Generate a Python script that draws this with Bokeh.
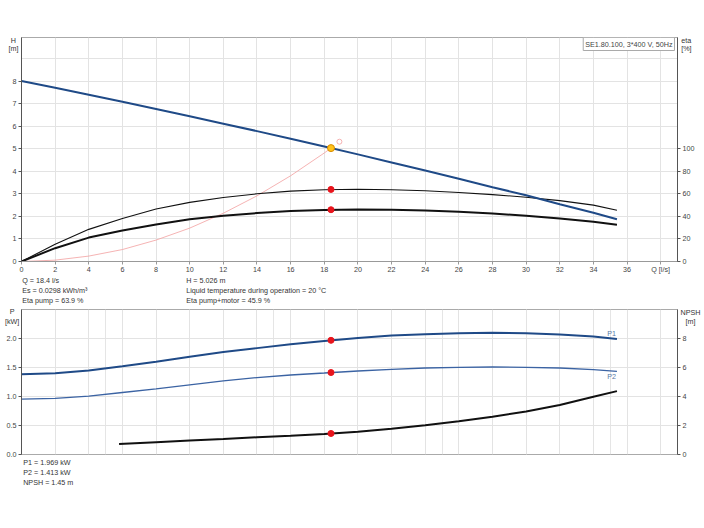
from bokeh.plotting import figure
from bokeh.models import Range1d, LinearAxis, FixedTicker, Label, PrintfTickFormatter, Grid
from bokeh.layouts import column
from bokeh.embed import file_html
from bokeh.resources import INLINE

# ---------------- data ----------------
q = [0, 2, 4, 6, 8, 10, 12, 14, 16, 18, 20, 22, 24, 26, 28, 30, 32, 34, 35.4]
h = [8.00, 7.70, 7.39, 7.08, 6.76, 6.44, 6.11, 5.78, 5.44, 5.10, 4.75, 4.39, 4.03, 3.67, 3.29, 2.94, 2.54, 2.16, 1.87]
eta_pump = [0, 15.3, 28.5, 38.2, 46.5, 52.4, 56.8, 60.0, 62.4, 63.6, 64.0, 63.6, 62.7, 61.2, 59.3, 57.0, 54.0, 50.0, 45.4]
eta_pump_motor = [0, 11.8, 21.2, 27.4, 32.9, 37.4, 40.6, 42.9, 44.7, 45.7, 46.0, 45.8, 45.2, 44.0, 42.5, 40.6, 38.2, 35.2, 32.6]
q_sys = [0, 2, 4, 6, 8, 10, 12, 14, 16, 18, 18.4]
h_sys = [0, 0.06, 0.24, 0.53, 0.95, 1.48, 2.14, 2.91, 3.80, 4.81, 5.026]
sys_mark_q = [18.9]
sys_mark_h = [5.31]

p1 = [1.383, 1.40, 1.45, 1.52, 1.60, 1.686, 1.766, 1.834, 1.90, 1.957, 2.01, 2.05, 2.075, 2.09, 2.097, 2.09, 2.07, 2.035, 1.99]
p2 = [0.954, 0.966, 1.006, 1.069, 1.131, 1.20, 1.269, 1.326, 1.371, 1.405, 1.44, 1.469, 1.491, 1.503, 1.509, 1.503, 1.491, 1.463, 1.432]
q_npsh = [5.8, 8, 10, 12, 14, 16, 18, 20, 22, 24, 26, 28, 30, 32, 34, 35.4]
npsh = [0.73, 0.85, 0.96, 1.07, 1.19, 1.30, 1.42, 1.57, 1.78, 2.01, 2.29, 2.61, 2.97, 3.41, 3.98, 4.37]

op_q = 18.4
op_h = 5.026
op_eta_pump = 63.9
op_eta_pm = 45.9
op_p1 = 1.969
op_p2 = 1.413
op_npsh = 1.45

q_ticks = list(range(0, 40, 2))
q_tick_labels = {38: "Q [l/s]"}
h_ticks = [0, 1, 2, 3, 4, 5, 6, 7, 8]
h_grid = [0, 1, 2, 3, 4, 5, 6, 7, 8, 9]
eta_ticks = [0, 20, 40, 60, 80, 100]
p_ticks = [0, 0.5, 1.0, 1.5, 2.0]
p_grid = [0, 0.5, 1.0, 1.5, 2.0, 2.5]
npsh_ticks = [0, 2, 4, 6, 8]

title_text = "SE1.80.100, 3*400 V, 50Hz"
info_left = ["Q = 18.4 l/s", "Es = 0.0298 kWh/m\u00b3", "Eta pump = 63.9 %"]
info_right = ["H = 5.026 m", "Liquid temperature during operation = 20 \u00b0C", "Eta pump+motor = 45.9 %"]
info_bottom = ["P1 = 1.969 kW", "P2 = 1.413 kW", "NPSH = 1.45 m"]

FONT = "Liberation Sans"
FS = "7.2px"
TXT = "#333333"
BLUE = "#1f4a87"
BLUE2 = "#3b63a3"
RED = "#e8141c"
GRID = "#e3e3e3"


def style_axis(ax, line="#555555", standoff=2):
    ax.major_label_text_font = FONT
    ax.major_label_text_font_size = FS
    ax.major_label_text_color = "#444444"
    ax.axis_line_color = line
    ax.major_tick_line_color = line
    ax.major_tick_in = 0
    ax.major_tick_out = 3
    ax.minor_tick_line_color = None
    ax.major_label_standoff = standoff


def lab(p, x, y, text, align="left", color=TXT, side=None, lh=1.07):
    label = Label(x=x, y=y, text=text, text_font=FONT, text_font_size=FS,
                  text_color=color, text_align=align, text_baseline="middle",
                  text_line_height=lh)
    if side is None:
        p.add_layout(label)
    else:
        p.add_layout(label, side)


# ---------------- top chart ----------------
p = figure(width=704, height=276, x_range=Range1d(0, 39), y_range=Range1d(0, 9.93),
           output_backend="svg", toolbar_location=None,
           min_border_left=21, min_border_right=27, min_border_top=37, min_border_bottom=12)
p.outline_line_color = "#aaaaaa"
p.extra_y_ranges = {"eta": Range1d(0, 198.6)}

p.xaxis.ticker = FixedTicker(ticks=q_ticks)
p.xaxis.major_label_overrides = q_tick_labels
style_axis(p.xaxis[0], "#999999", 0)
p.yaxis.ticker = FixedTicker(ticks=h_ticks)
style_axis(p.yaxis[0])
ax_eta = LinearAxis(y_range_name="eta", ticker=FixedTicker(ticks=eta_ticks))
style_axis(ax_eta)
p.add_layout(ax_eta, "right")

p.xgrid.ticker = FixedTicker(ticks=q_ticks)
p.ygrid.ticker = FixedTicker(ticks=h_grid)
p.xgrid.grid_line_color = GRID
p.ygrid.grid_line_color = GRID

p.line(q_sys, h_sys, line_color="#f2a0a0", line_width=0.8)
p.scatter(sys_mark_q, sys_mark_h, size=5, fill_color=None, line_color="#f2a0a0", line_width=0.8)
p.line(q, eta_pump, y_range_name="eta", line_color="#111111", line_width=1.1)
p.line(q, eta_pump_motor, y_range_name="eta", line_color="#111111", line_width=2)
p.line(q, h, line_color=BLUE, line_width=2)
p.scatter([op_q], [op_eta_pump], y_range_name="eta", size=6, fill_color=RED, line_color=RED)
p.scatter([op_q], [op_eta_pm], y_range_name="eta", size=6, fill_color=RED, line_color=RED)
p.scatter([op_q], [op_h], size=7, fill_color="#ffc21a", line_color="#d98c00", line_width=1)

lab(p, -0.48, 9.63, "H\n[m]", align="center", side="above", lh=0.92)
lab(p, 39.22, 9.60, "eta\n[%]", side="above", lh=0.9)
p.add_layout(Label(x=38.82, y=9.93, text=title_text, text_font=FONT, text_font_size=FS,
                   text_color="#444444", text_align="right", text_baseline="top",
                   border_line_color="#aaaaaa", background_fill_color="white", padding=2))

# ---------------- info strip under top chart ----------------
s = figure(width=704, height=32, x_range=p.x_range, y_range=Range1d(-1.925, -0.525),
           x_axis_type=None, y_axis_type=None, output_backend="svg", toolbar_location=None,
           min_border_left=21, min_border_right=27, min_border_top=0, min_border_bottom=0)
s.outline_line_color = None
lab(s, 0.04, -1.137, "\n".join(info_left), lh=1.07)
lab(s, 9.79, -1.137, "\n".join(info_right), lh=1.07)

# ---------------- bottom chart ----------------
b = figure(width=704, height=217, x_range=p.x_range, y_range=Range1d(0, 2.5),
           x_axis_location=None, output_backend="svg", toolbar_location=None,
           min_border_left=21, min_border_right=27, min_border_top=1, min_border_bottom=71)
b.outline_line_color = "#aaaaaa"
b.extra_y_ranges = {"npsh": Range1d(0, 10)}
b.yaxis.ticker = FixedTicker(ticks=p_ticks)
b.yaxis.formatter = PrintfTickFormatter(format="%.1f")
style_axis(b.yaxis[0])
ax_npsh = LinearAxis(y_range_name="npsh", ticker=FixedTicker(ticks=npsh_ticks))
style_axis(ax_npsh)
b.add_layout(ax_npsh, "right")
b.add_layout(Grid(dimension=0, ticker=FixedTicker(ticks=q_ticks), grid_line_color=GRID))
b.ygrid.ticker = FixedTicker(ticks=p_grid)
b.ygrid.grid_line_color = GRID

b.line(q, p1, line_color=BLUE, line_width=2)
b.line(q, p2, line_color=BLUE2, line_width=1.3)
b.line(q_npsh, npsh, y_range_name="npsh", line_color="#111111", line_width=2)
b.scatter([op_q], [op_p1], size=6, fill_color=RED, line_color=RED)
b.scatter([op_q], [op_p2], size=6, fill_color=RED, line_color=RED)
b.scatter([op_q], [op_npsh], y_range_name="npsh", size=6, fill_color=RED, line_color=RED)

lab(b, q[-1] - 0.32, p1[-1] + 0.10, "P1", align="center", color="#5a78a6")
lab(b, q[-1] - 0.32, p2[-1] - 0.09, "P2", align="center", color="#5a78a6")
lab(b, -0.56, 2.378, "P\n[kW]", align="center", side="below", lh=1.05)
lab(b, 39.77, 2.367, "NPSH\n[m]", align="center", side="below", lh=0.95)
lab(b, 0.1, -0.31, "\n".join(info_bottom), side="below", lh=1.13)

layout = column(p, s, b)
open("out.html", "w").write(file_html(layout, INLINE))
